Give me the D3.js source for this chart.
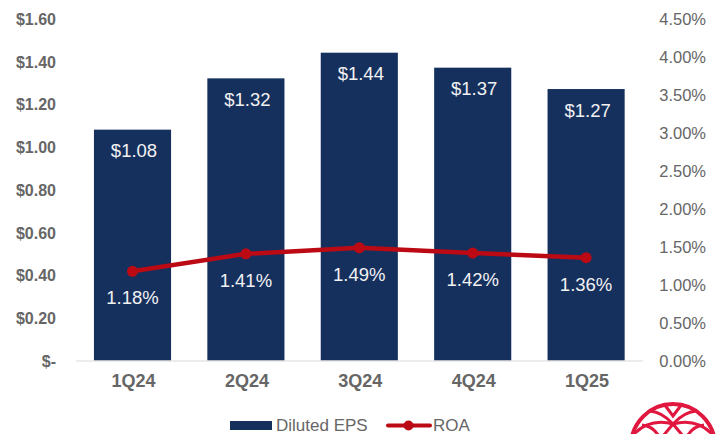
<!DOCTYPE html>
<html><head><meta charset="utf-8">
<script src="https://cdn.jsdelivr.net/npm/d3@7"></script>
<style>html,body{margin:0;padding:0;background:#fff}svg{display:block;font-family:"Liberation Sans",Arial,sans-serif}</style>
</head><body><svg id="c" width="722" height="434"></svg>
<script>
const categories = ["1Q24","2Q24","3Q24","4Q24","1Q25"];
const epsValues = [1.08,1.32,1.44,1.37,1.27];
const roaValues = [1.18,1.41,1.49,1.42,1.36];
const epsTicks = [0,0.2,0.4,0.6,0.8,1.0,1.2,1.4,1.6];
const roaTicks = [0,0.5,1,1.5,2,2.5,3,3.5,4,4.5];
const svg = d3.select("#c");
const navy="#16305e", red="#bb0a14", grey="#666666";
const x = d3.scaleBand().domain(categories).range([75.8,642.8]).paddingInner(0.32).paddingOuter(0.16);
const yL = d3.scaleLinear().domain([0,1.6]).range([360.5,18.5]);
const yR = d3.scaleLinear().domain([0,4.5]).range([361,19]);
const cx = d=>x(d)+x.bandwidth()/2;

svg.selectAll("rect.bar").data(categories).join("rect").attr("class","bar")
  .attr("x",d=>x(d)).attr("width",x.bandwidth())
  .attr("y",(d,i)=>yL(epsValues[i])).attr("height",(d,i)=>yL(0)-yL(epsValues[i])).attr("fill",navy);

const axL = svg.append("g").attr("transform","translate(56,0)")
  .call(d3.axisLeft(yL).tickValues(epsTicks).tickSize(0).tickPadding(0).tickFormat(d=>d===0?"$-":"$"+d.toFixed(2)));
axL.select(".domain").remove();
axL.selectAll("text").attr("font-size",16).attr("font-weight","bold").attr("fill",grey).attr("dy","0.36em");

const axR = svg.append("g").attr("transform","translate(706,0)")
  .call(d3.axisRight(yR).tickValues(roaTicks).tickSize(0).tickPadding(0).tickFormat(d=>d.toFixed(2)+"%"));
axR.select(".domain").remove();
axR.selectAll("text").attr("font-size",16.5).attr("fill",grey).attr("dy","0.36em").attr("text-anchor","end");

const axB = svg.append("g").attr("transform","translate(0,360.5)")
  .call(d3.axisBottom(x).tickSize(0).tickPadding(14));
axB.select(".domain").attr("stroke","#d9d9d9").attr("stroke-width",1.2);
axB.selectAll("text").attr("font-size",18).attr("font-weight","bold").attr("fill",grey).attr("dx",1);

const line = d3.line().x((d,i)=>cx(categories[i])).y(d=>yR(d)).curve(d3.curveLinear);
svg.append("path").datum(roaValues).attr("d",line).attr("fill","none").attr("stroke",red).attr("stroke-width",4.5).attr("stroke-linecap","round").attr("stroke-linejoin","round");
svg.selectAll("circle.pt").data(roaValues).join("circle").attr("class","pt")
  .attr("cx",(d,i)=>cx(categories[i])).attr("cy",d=>yR(d)).attr("r",5.5).attr("fill",red);

svg.selectAll("text.eps").data(epsValues).join("text").attr("class","eps")
  .attr("x",(d,i)=>cx(categories[i])+1.5).attr("y",d=>yL(d)+27.5).attr("text-anchor","middle")
  .attr("font-size",18.5).attr("fill","#f2f2f2").text(d=>"$"+d.toFixed(2));
svg.selectAll("text.roa").data(roaValues).join("text").attr("class","roa")
  .attr("x",(d,i)=>cx(categories[i])).attr("y",d=>yR(d)+33).attr("text-anchor","middle")
  .attr("font-size",18.5).attr("fill","#f2f2f2").text(d=>d.toFixed(2)+"%");

// legend
svg.append("rect").attr("x",230).attr("y",421).attr("width",42).attr("height",9).attr("fill",navy);
svg.append("text").attr("x",276).attr("y",431).attr("font-size",17).attr("fill",grey).text("Diluted EPS");
svg.append("line").attr("x1",388).attr("x2",430).attr("y1",425.5).attr("y2",425.5).attr("stroke",red).attr("stroke-width",4).attr("stroke-linecap","round");
svg.append("circle").attr("cx",408.5).attr("cy",425.5).attr("r",5).attr("fill",red);
svg.append("text").attr("x",433).attr("y",431).attr("font-size",17).attr("fill",grey).text("ROA");

// logo fragment
const logo = svg.append("g").attr("fill","none").attr("stroke","#e0173f").attr("stroke-width",3);
logo.append("circle").attr("cx",673).attr("cy",446).attr("r",42).attr("stroke-width",4);
["M650 411 Q662 412 673 424 Q684 412 696 411","M634 434 Q650 418 673 424 Q696 418 712 434","M664 404 L673 416 L682 404","M642 425 Q655 426 662 442","M704 425 Q691 426 684 442","M673 424 L658 442","M673 424 L688 442"]
  .forEach(d=>logo.append("path").attr("d",d));
</script></body></html>
